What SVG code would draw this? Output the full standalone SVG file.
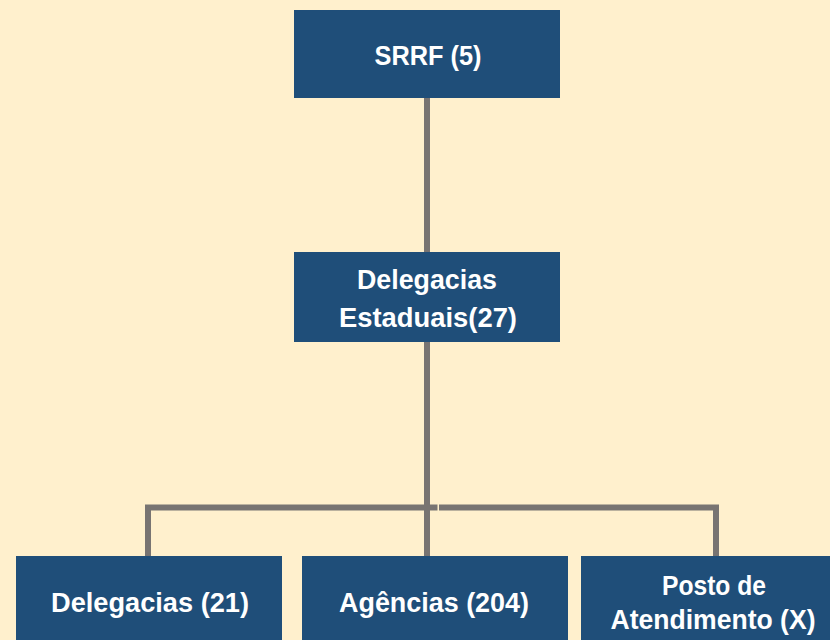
<svg xmlns="http://www.w3.org/2000/svg" width="830" height="640" viewBox="0 0 830 640">
<style>
.box{fill:#1F4E79}
.t{fill:#FFFFFF;font-family:"Liberation Sans",Arial,sans-serif;font-weight:bold;font-size:27px;text-anchor:middle}
.c{stroke:#787472;stroke-width:6;fill:none}
</style>
<rect x="0" y="0" width="830" height="640" fill="#FFF0CD"/>
<g id="connectors">
<line class="c" x1="427" y1="98" x2="427" y2="252"/>
<line class="c" x1="427" y1="342" x2="427" y2="558"/>
<polyline class="c" points="148,562 148,507.5 437.5,507.5"/>
<polyline class="c" points="439,507.5 716,507.5 716,562"/>
</g>
<g id="n-srrf">
<rect class="box" x="294" y="10" width="266" height="88"/>
<text class="t" x="428" y="65" font-size="30" textLength="107" lengthAdjust="spacingAndGlyphs">SRRF (5)</text>
</g>
<g id="n-estaduais">
<rect class="box" x="294" y="252" width="266" height="90"/>
<text class="t" x="427" y="289" textLength="140" lengthAdjust="spacingAndGlyphs">Delegacias</text>
<text class="t" x="428" y="327" textLength="178" lengthAdjust="spacingAndGlyphs">Estaduais(27)</text>
</g>
<g id="n-delegacias">
<rect class="box" x="16" y="556" width="266" height="84"/>
<text class="t" x="150" y="612" textLength="198" lengthAdjust="spacingAndGlyphs">Delegacias (21)</text>
</g>
<g id="n-agencias">
<rect class="box" x="302" y="556" width="266" height="84"/>
<text class="t" x="434" y="612" textLength="190" lengthAdjust="spacingAndGlyphs">Agências (204)</text>
</g>
<g id="n-posto">
<rect class="box" x="581" y="556" width="249" height="84"/>
<text class="t" x="714" y="595" textLength="104" lengthAdjust="spacingAndGlyphs">Posto de</text>
<text class="t" x="713" y="629" textLength="205" lengthAdjust="spacingAndGlyphs">Atendimento (X)</text>
</g>
</svg>
